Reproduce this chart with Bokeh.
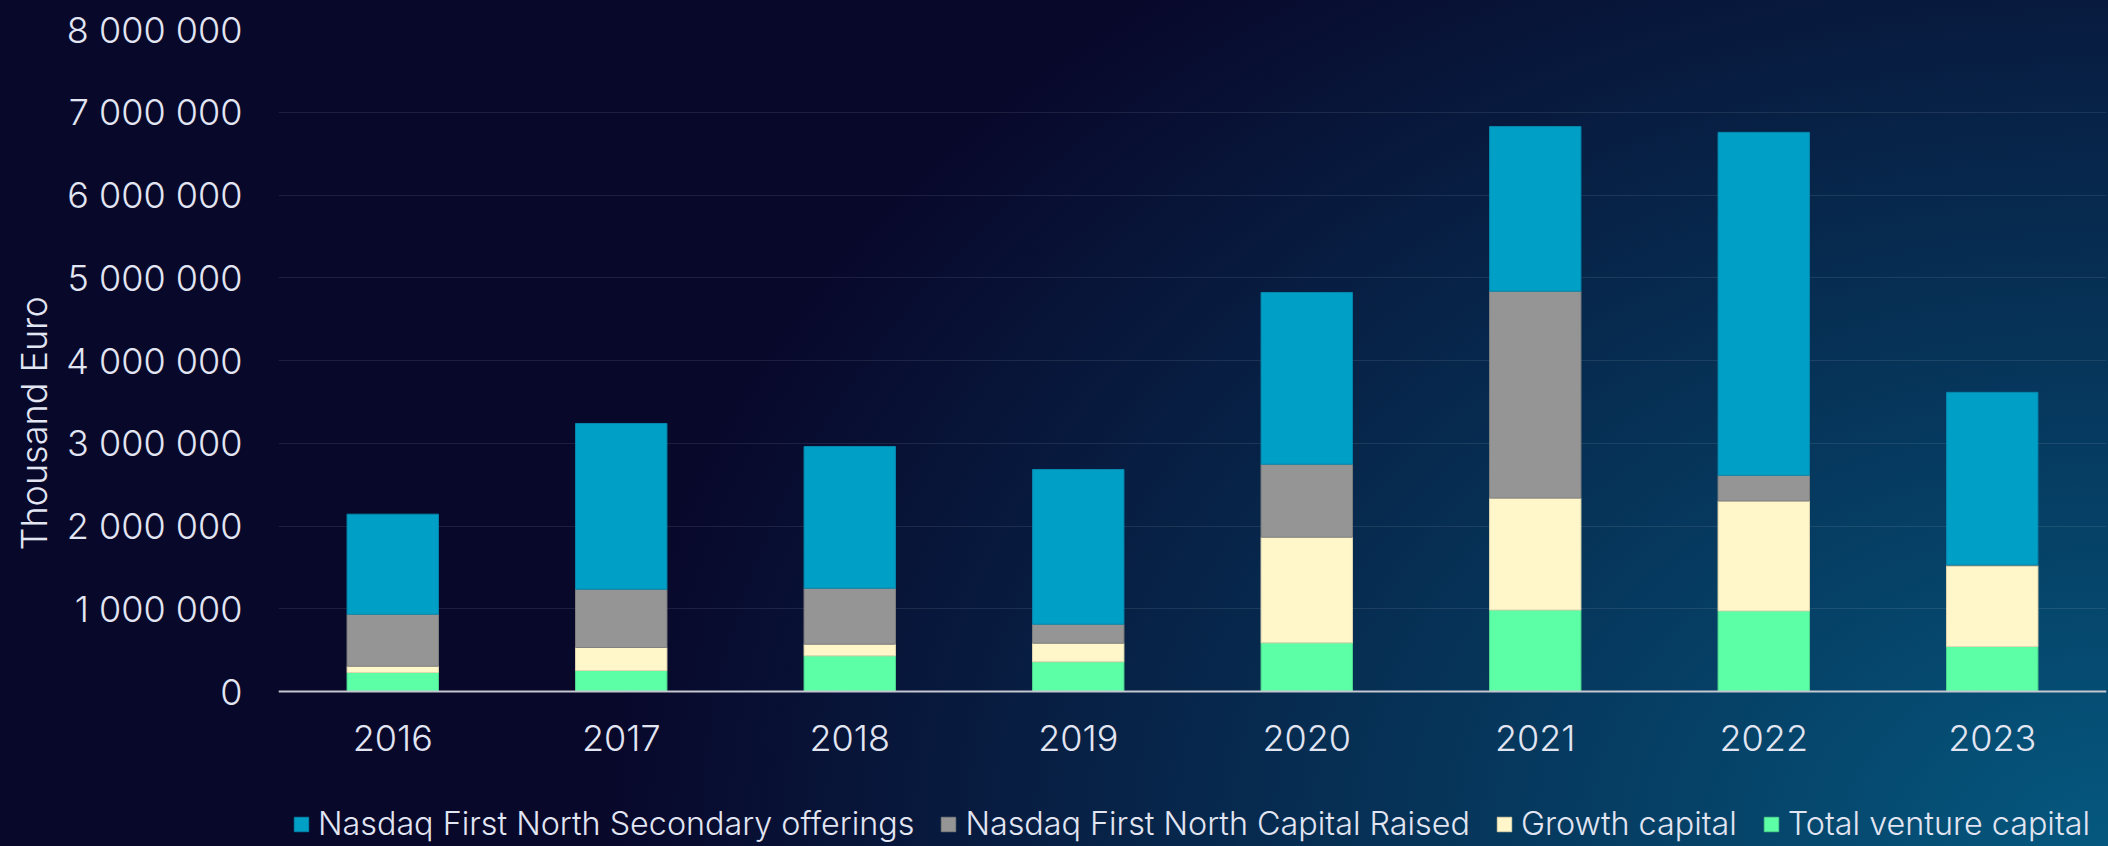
from bokeh.plotting import figure
from bokeh.models import ColumnDataSource, FixedTicker, Legend, LegendItem, Title, Range1d
from bokeh.embed import file_html
from bokeh.resources import INLINE

# ---- data (thousand euro) ----
years = ["2016", "2017", "2018", "2019", "2020", "2021", "2022", "2023"]
venture = [230000, 254000, 431000, 359000, 588000, 985000, 974000, 544000]
growth = [76000, 278000, 141000, 225000, 1277000, 1352000, 1328000, 976000]
raised = [628000, 705000, 677000, 230000, 882000, 2501000, 311000, 10000]
secondary = [1209000, 2002000, 1712000, 1869000, 2075000, 1989000, 4144000, 2085000]

series_keys = ["venture", "growth", "raised", "secondary"]
series_names = ["Total venture capital", "Growth capital",
                "Nasdaq First North Capital Raised",
                "Nasdaq First North Secondary offerings"]
y_ticks = [0, 1000000, 2000000, 3000000, 4000000, 5000000, 6000000, 7000000, 8000000]
y_tick_labels = ["0", "1 000 000", "2 000 000", "3 000 000", "4 000 000",
                 "5 000 000", "6 000 000", "7 000 000", "8 000 000"]
y_title = "Thousand  Euro"

# ---- styling / layout ----
FONT = "Inter Light"
TXT = "#e2e5f2"
fill_colors = ["#5cffa5", "#fff6c9", "#959595", "#00a0c6"]
edge_colors = ["#4fd890", "#e0d8b0", "#808080", "#0687ad"]

W, H = 2108, 846
TOP, ZERO_PX = 29, 691          # pixel rows of the top tick and of zero
y_max = y_ticks[-1]
y_min = -y_max * (H - ZERO_PX) / (ZERO_PX - TOP)   # room below zero for labels + legend

source = ColumnDataSource(dict(year=years, venture=venture, growth=growth,
                               raised=raised, secondary=secondary))

p = figure(x_range=years, y_range=Range1d(y_min, y_max), width=W, height=H,
           output_backend="svg", toolbar_location=None,
           min_border_left=278, min_border_right=2, min_border_top=TOP,
           min_border_bottom=0,
           background_fill_alpha=0, border_fill_alpha=0,
           outline_line_color=None)

renderers = p.vbar_stack(series_keys, x="year", width=0.4, source=source,
                         fill_color=fill_colors, line_color=edge_colors,
                         line_width=1)

# axes
p.yaxis.ticker = FixedTicker(ticks=y_ticks)
p.yaxis.major_label_overrides = {t: l for t, l in zip(y_ticks, y_tick_labels)}
p.yaxis.axis_line_color = None
p.yaxis.major_tick_line_color = None
p.yaxis.minor_tick_line_color = None
p.yaxis.major_tick_out = 0
p.yaxis.major_label_standoff = 36
p.yaxis.major_label_text_font = FONT
p.yaxis.major_label_text_font_size = "36px"
p.yaxis.major_label_text_color = TXT

p.xaxis.fixed_location = 0
p.xaxis.axis_line_color = "#c4c6d0"
p.xaxis.axis_line_width = 2
p.xaxis.major_tick_line_color = None
p.xaxis.minor_tick_line_color = None
p.xaxis.major_tick_out = 0
p.xaxis.major_label_standoff = 33
p.xaxis.major_label_text_font = FONT
p.xaxis.major_label_text_font_size = "36px"
p.xaxis.major_label_text_color = TXT

p.xgrid.grid_line_color = None
p.ygrid.ticker = FixedTicker(ticks=y_ticks)
p.ygrid.grid_line_color = "#ffffff"
p.ygrid.grid_line_alpha = 0.09
p.ygrid.grid_line_width = 1

# y title in the left panel, shifted up from the frame bottom
p.add_layout(Title(text=y_title, align="left", offset=296, standoff=16,
                   text_font=FONT, text_font_size="36px",
                   text_font_style="normal", text_color=TXT), "left")

# legend at the bottom (inside the extended frame)
items = [LegendItem(label=series_names[i], renderers=[renderers[i]]) for i in [3, 2, 1, 0]]
legend = Legend(items=items, orientation="horizontal", location=(14, 3),
                glyph_width=18, glyph_height=18, label_standoff=8, spacing=25,
                padding=0, margin=0, border_line_color=None,
                background_fill_alpha=0, label_text_font=FONT,
                label_text_font_size="32.3px", label_text_color=TXT,
                label_height=18)
p.add_layout(legend)

template = """
{% block preamble %}
<style>
html { background: radial-gradient(1500px 1100px at 100% 100%, #05587f 0%, #08082b 100%) no-repeat, #08082b !important; }
html, body { margin: 0 !important; padding: 0 !important; }
body { background: transparent !important; }
</style>
{% endblock %}
"""

open("out.html", "w").write(file_html(p, INLINE, title="chart", template=template))
